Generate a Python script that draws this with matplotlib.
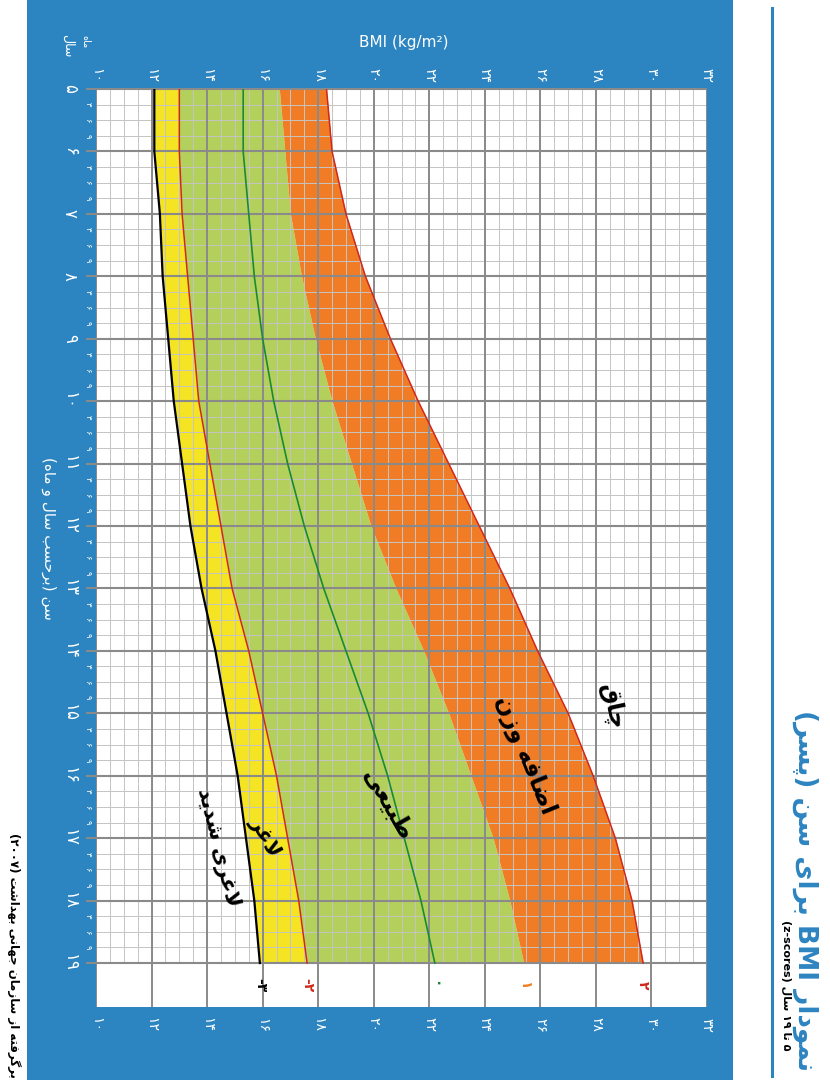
import re
import numpy as np
import matplotlib
matplotlib.use('Agg')
import matplotlib.pyplot as plt
from matplotlib.patches import Rectangle

plt.rcParams['font.family'] = ['DejaVu Sans']

# WHO BMI-for-age, boys 5-19
ages = [5, 6, 7, 8, 9, 10, 11, 12, 13, 14, 15, 16, 17, 18, 19]
z_m3 = [12.1, 12.1, 12.3, 12.4, 12.6, 12.8, 13.1, 13.4, 13.8, 14.3, 14.7, 15.1, 15.4, 15.7, 15.9]
z_m2 = [13.0, 13.0, 13.1, 13.3, 13.5, 13.7, 14.1, 14.5, 14.9, 15.5, 16.0, 16.5, 16.9, 17.3, 17.6]
z_0 = [15.3, 15.3, 15.5, 15.7, 16.0, 16.4, 16.9, 17.5, 18.2, 19.0, 19.8, 20.5, 21.1, 21.7, 22.2]
z_p1 = [16.6, 16.8, 17.0, 17.4, 17.9, 18.5, 19.2, 19.9, 20.8, 21.8, 22.7, 23.5, 24.3, 24.9, 25.4]
z_p2 = [18.3, 18.5, 19.0, 19.7, 20.6, 21.6, 22.7, 23.8, 24.9, 25.9, 27.0, 27.9, 28.7, 29.3, 29.7]

bmi_ticks = [10, 12, 14, 16, 18, 20, 22, 24, 26, 28, 30, 32]
z_labels = ['-۳', '-۲', '۰', '۱', '۲']
z_colors = ['black', '#d0281c', '#1a8a35', '#f07d22', '#d0281c']

blue = '#2c84c0'
yellow = '#f4e423'
green = '#b4d05c'
orange = '#f07d26'

# --- tiny persian shaper (matplotlib has no arabic shaping) ---
AR = {'ا': (0xFE8D, 2), 'ب': (0xFE8F, 4), 'ت': (0xFE95, 4), 'ج': (0xFE9D, 4), 'ح': (0xFEA1, 4),
      'د': (0xFEA9, 2), 'ر': (0xFEAD, 2), 'ز': (0xFEAF, 2), 'س': (0xFEB1, 4), 'ش': (0xFEB5, 4),
      'ض': (0xFEBD, 4), 'ط': (0xFEC1, 4), 'ع': (0xFEC9, 4), 'غ': (0xFECD, 4), 'ف': (0xFED1, 4),
      'ق': (0xFED5, 4), 'ل': (0xFEDD, 4), 'م': (0xFEE1, 4), 'ن': (0xFEE5, 4), 'ه': (0xFEE9, 4),
      'و': (0xFEED, 2), 'ی': (0xFBFC, 4), 'پ': (0xFB56, 4), 'چ': (0xFB7A, 4), 'گ': (0xFB92, 4)}


def shape(s):
    out = []
    i = 0
    while i < len(s):
        c = s[i]
        if c not in AR:
            out.append(c)
            i += 1
            continue
        pj = i > 0 and s[i-1] in AR and AR[s[i-1]][1] == 4
        if c == 'ل' and i+1 < len(s) and s[i+1] == 'ا':
            out.append('\uFEFC' if pj else '\uFEFB')
            i += 2
            continue
        nj = AR[c][1] == 4 and i+1 < len(s) and s[i+1] in AR
        k = 3 if (pj and nj) else 1 if pj else 2 if nj else 0
        out.append(chr(AR[c][0]+k))
        i += 1
    return ''.join(out)


LTR = 'A-Za-z0-9\u06F0-\u06F9²'


def fa(s):
    s = shape(s)
    runs = re.findall('[%s](?:[%s/\\-]*[%s])?|[^%s]+' % (LTR, LTR, LTR, LTR), s)
    mir = {'(': ')', ')': '('}
    vis = []
    for r in reversed(runs):
        if re.match('[%s]' % LTR, r):
            vis.append(r)
        else:
            vis.append(''.join(mir.get(ch, ch) for ch in reversed(r)))
    return ''.join(vis)


def pdig(n):
    return str(n).translate(str.maketrans('0123456789', '۰۱۲۳۴۵۶۷۸۹'))


def bx(px):  # pixel x -> bmi
    return 10 + (px - 96) / 27.77


def ay(py):  # pixel y -> age
    return 5 + (py - 89) / 62.43


fig = plt.figure(figsize=(8.3, 10.8), dpi=100)
fig.patch.set_facecolor('white')
W, H = 830, 1080
fig.patches.append(Rectangle((27/W, 0), (733-27)/W, 1, transform=fig.transFigure,
                             facecolor=blue, edgecolor='none', zorder=-5))
fig.add_artist(plt.Line2D([772/W, 772/W], [1-8/H, 1-1076/H], color=blue, lw=2.2))

age_max = ay(1007)
ax = fig.add_axes([96/W, 1-1007/H, 611/W, (1007-89)/H])
ax.set_zorder(2)
ax.set_xlim(10, 32)
ax.set_ylim(age_max, 5)
ax.set_facecolor('white')
for s in ax.spines.values():
    s.set_visible(False)
ax.set_xticks([])
ax.set_yticks([])

# bands
ax.fill_betweenx(ages, z_m3, z_m2, color=yellow, lw=0, zorder=1)
ax.fill_betweenx(ages, z_m2, z_p1, color=green, lw=0, zorder=1)
ax.fill_betweenx(ages, z_p1, z_p2, color=orange, lw=0, zorder=1)

# grid
ax.vlines(np.arange(10, 32.01, 0.5), 5, 19, color='#c4c4c4', lw=0.7, zorder=2)
ax.hlines(np.arange(5, 19.01, 0.25), 10, 32, color='#c4c4c4', lw=0.7, zorder=2)
ax.vlines(bmi_ticks, 5, age_max, color='#8a8a8a', lw=1.4, zorder=3)
ax.hlines(ages, 9.64, 32, color='#8a8a8a', lw=1.5, zorder=3, clip_on=False)

# curves
ax.plot(z_m3, ages, color='black', lw=1.6, zorder=4)
ax.plot(z_m2, ages, color='#d0281c', lw=1.1, zorder=4)
ax.plot(z_0, ages, color='#1a8a35', lw=1.2, zorder=4)
ax.plot(z_p2, ages, color='#d0281c', lw=1.1, zorder=4)

for lab, col, v in zip(z_labels, z_colors, [z_m3[-1], z_m2[-1], z_0[-1], z_p1[-1], z_p2[-1]]):
    ax.text(v, 19.35, lab, color=col, rotation=-90, ha='center', va='center',
            fontsize=10, fontweight='bold', zorder=5)

# bmi tick labels top and bottom
for b in bmi_ticks:
    for yy in (ay(75), ay(1025)):
        ax.text(b, yy, pdig(b), color='white', rotation=-90, ha='center', va='center',
                fontsize=10, clip_on=False)

# age labels
for a in ages:
    ax.text(bx(70), a, pdig(a), color='white', rotation=-90, ha='center', va='center',
            fontsize=12, clip_on=False)
    if a < 19:
        for m, lab in zip([0.25, 0.5, 0.75], ['۳', '۶', '۹']):
            ax.text(bx(88), a+m, lab, color='white', rotation=-90, ha='center', va='center',
                    fontsize=6, clip_on=False)

# zone labels
ax.text(bx(612), ay(706), fa('چاق'), rotation=-78, ha='center', va='center',
        fontsize=17, fontweight='bold', zorder=6)
ax.text(bx(525), ay(755), fa('اضافه وزن'), rotation=-68, ha='center', va='center',
        fontsize=17, fontweight='bold', zorder=6)
ax.text(bx(388), ay(805), fa('طبیعی'), rotation=-60, ha='center', va='center',
        fontsize=17, fontweight='bold', zorder=6)
ax.text(bx(265), ay(837), fa('لاغر'), rotation=-62, ha='center', va='center',
        fontsize=15, fontweight='bold', zorder=6)
ax.text(bx(218), ay(848), fa('لاغری شدید'), rotation=-76, ha='center', va='center',
        fontsize=15, fontweight='bold', zorder=6)

# outer texts
fig.text(404/W, 1-43/H, 'BMI (kg/m²)', color='white', fontsize=11, ha='center', va='center')
fig.text(49/W, 1-538/H, fa('سن (برحسب سال و ماه)'), color='white', fontsize=11,
         rotation=-90, ha='center', va='center')
fig.text(68/W, 1-46/H, fa('سال'), color='white', fontsize=9, rotation=-90, ha='center', va='center')
fig.text(85/W, 1-42/H, fa('ماه'), color='white', fontsize=7, rotation=-90, ha='center', va='center')
fig.text(14/W, 1-955/H, fa('برگرفته از سازمان جهانی بهداشت (۲۰۰۷)'), color='black', fontsize=8.5,
         fontweight='bold', rotation=-90, ha='center', va='center')
fig.text(805/W, 1-890/H, fa('نمودار BMI برای سن (پسر)'), color=blue, fontsize=19,
         fontweight='bold', rotation=-90, ha='center', va='center')
fig.text(786/W, 1-985/H, fa('۵ تا ۱۹ سال (z-scores)'), color='black', fontsize=8,
         fontweight='bold', rotation=-90, ha='center', va='center')

fig.savefig('out.png', dpi=100)
